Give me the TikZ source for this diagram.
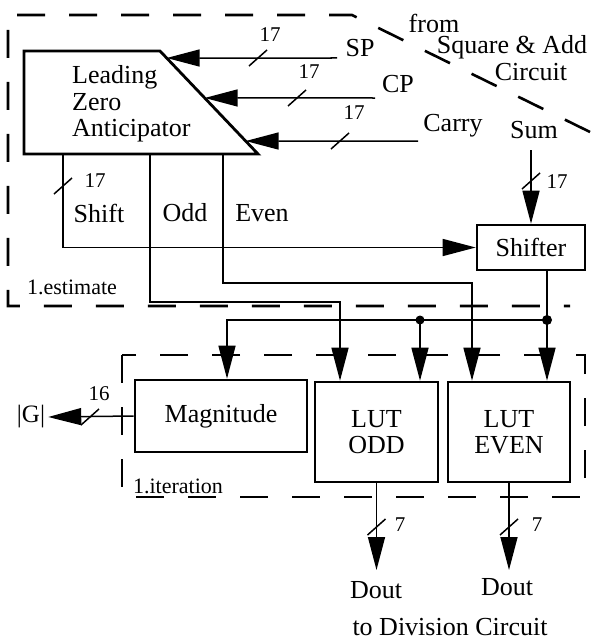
\documentclass[tikz,border=0pt]{standalone}
\usepackage{fontspec}
\setmainfont{Liberation Serif}
\usetikzlibrary{arrows.meta,calc}
\begin{document}
\begin{tikzpicture}[x=1pt,y=-1pt,
  blk/.style={draw, line width=2.6pt, inner sep=0, font=\fontsize{26}{27}\selectfont, align=center},
  conn/.style={line width=1.5pt},
  arr/.style={conn, -{Triangle[length=33pt,width=17pt]}},
  frame/.style={line width=2.6pt, dash pattern=on 28pt off 24pt},
  lbl/.style={inner sep=0, font=\fontsize{26}{27}\selectfont},
  num/.style={inner sep=0, font=\fontsize{21}{22}\selectfont},
  tag/.style={inner sep=0, font=\fontsize{22}{24}\selectfont},
  jdot/.style={circle, fill, inner sep=0, minimum size=10pt}]
\useasboundingbox (0,0) rectangle (591,642);

% frames
\draw[frame] (590,132) -- (352,15) -- (8,15) -- (8,306) -- (570,306);
\draw[frame] (122,355) rectangle (585,497);
\node[tag] (est) at (72,287) {1.estimate};
\node[tag] (iter) at (178,486) {1.iteration};

% leading zero anticipator
\coordinate (lzaTL) at (24,51);
\coordinate (lzaTR) at (160,51);
\coordinate (lzaBR) at (258,154);
\coordinate (lzaBL) at (24,154);
\draw[line width=2.8pt, line join=miter] (lzaTL) -- (lzaTR) -- (lzaBR) -- (lzaBL) -- cycle;
\node[lbl, align=left, anchor=west, font=\fontsize{26}{26.5}\selectfont] (lza) at (72,104) {Leading\\Zero\\Anticipator};

% sources
\node[lbl] (from) at (434,23) {from};
\node[lbl] (sqadd) at (512,47) {Square \& Add};
\node[lbl] (circ) at (531,72) {Circuit};
\node[lbl] (sp) at (360,48) {SP};
\node[lbl] (cp) at (398,84) {CP};
\node[lbl] (carry) at (453,126) {Carry};
\node[lbl] (sum) at (534,130) {Sum};
\coordinate (spS) at (337,58);
\coordinate (cpS) at (375,98);
\coordinate (carryS) at (418,141);
\coordinate (sumS) at (531,150);

\draw[arr] (spS) -- ($(lzaTR)!0.068!(lzaBR)$);
\draw[arr] (cpS) -- ($(lzaTR)!0.456!(lzaBR)$);
\draw[arr] (carryS) -- ($(lzaTR)!0.874!(lzaBR)$);

% blocks
\node[blk, minimum width=108pt, minimum height=45pt] (shifter) at (531,247.5) {Shifter};
\node[blk, minimum width=172pt, minimum height=72pt] (magnitude) at (221,416) {Magnitude};
\node[blk, minimum width=123pt, minimum height=100pt, font=\fontsize{26}{26}\selectfont] (lutodd) at (376.5,432) {LUT\\ODD};
\node[blk, minimum width=122pt, minimum height=100pt, font=\fontsize{26}{26}\selectfont] (luteven) at (509,432) {LUT\\EVEN};

\draw[arr] (sumS) -- (shifter.north);

% LZA outputs
\coordinate (shiftO) at (63,154);
\coordinate (oddO) at (150,154);
\coordinate (evenO) at (223,154);
\coordinate (oddB) at (340,302);
\coordinate (evenB) at (472,283);
\node[lbl] (shiftL) at (99,213) {Shift};
\node[lbl] (oddL) at (185,213) {Odd};
\node[lbl] (evenL) at (262,213) {Even};

\draw[arr] (shiftO) |- (shifter.west);
\draw[arr] (oddO) |- (oddB) -- (oddB |- lutodd.north);
\draw[arr] (evenO) |- (evenB) -- (evenB |- luteven.north);

% shifter output
\coordinate (shO) at ($(shifter.south)+(16,0)$);
\coordinate (jR) at (547,320);
\coordinate (jL) at (420,320);
\draw[arr] (shO) -- (shO |- luteven.north);
\draw[arr] (jR) -| ($(magnitude.north)+(6,0)$);
\draw[arr] (jL) -- (jL |- lutodd.north);
\node[jdot] (dR) at (jR) {};
\node[jdot, minimum size=9pt] (dL) at (jL) {};

% outputs
\node[lbl, font=\fontsize{25}{26}\selectfont] (G) at (31,417) {|G|};
\draw[arr] (magnitude.west) -- ($(G.east)+(3,0)$);
\node[lbl] (dout1) at (376,590) {Dout};
\node[lbl] (dout2) at (507,587) {Dout};
\node[lbl] (todiv) at (450,627) {to Division Circuit};
\coordinate (d1) at (376,570);
\coordinate (d2) at (508,570);
\draw[arr] (lutodd.south) -- (lutodd.south |- d1);
\draw[arr] (luteven.south) -- (luteven.south |- d2);

% bus width marks
\foreach \p in {(258,58),(297,98),(340,141),(531,181),(63,186),(90,417),(376.5,527),(509,527)}
  \draw[conn] \p ++(-9,8) -- ++(18,-16);
\node[num] (w1) at (270,35) {17};
\node[num] (w2) at (309,72) {17};
\node[num] (w3) at (354,113) {17};
\node[num] (w4) at (557,182) {17};
\node[num] (w5) at (95,181) {17};
\node[num] (w6) at (99,394) {16};
\node[num] (w7) at (400,525) {7};
\node[num] (w8) at (537,525) {7};
\end{tikzpicture}
\end{document}
